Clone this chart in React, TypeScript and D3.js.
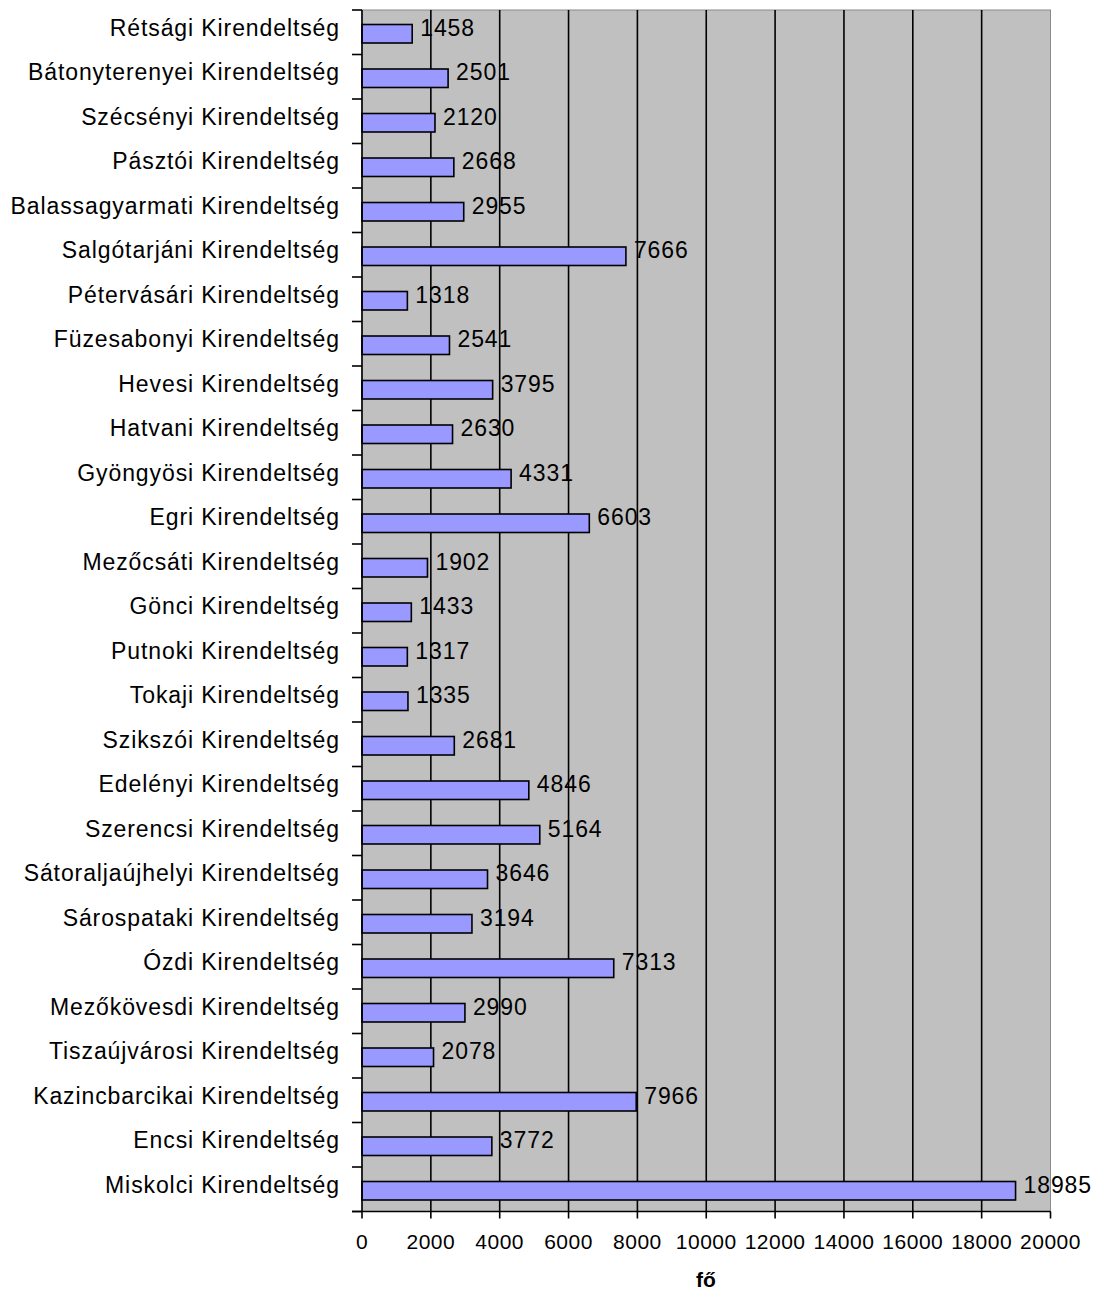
import React from "react";
import * as d3 from "d3";

const categories: string[] = [
  "Rétsági Kirendeltség",
  "Bátonyterenyei Kirendeltség",
  "Szécsényi Kirendeltség",
  "Pásztói Kirendeltség",
  "Balassagyarmati Kirendeltség",
  "Salgótarjáni Kirendeltség",
  "Pétervásári Kirendeltség",
  "Füzesabonyi Kirendeltség",
  "Hevesi Kirendeltség",
  "Hatvani Kirendeltség",
  "Gyöngyösi Kirendeltség",
  "Egri Kirendeltség",
  "Mezőcsáti Kirendeltség",
  "Gönci Kirendeltség",
  "Putnoki Kirendeltség",
  "Tokaji Kirendeltség",
  "Szikszói Kirendeltség",
  "Edelényi Kirendeltség",
  "Szerencsi Kirendeltség",
  "Sátoraljaújhelyi Kirendeltség",
  "Sárospataki Kirendeltség",
  "Ózdi Kirendeltség",
  "Mezőkövesdi Kirendeltség",
  "Tiszaújvárosi Kirendeltség",
  "Kazincbarcikai Kirendeltség",
  "Encsi Kirendeltség",
  "Miskolci Kirendeltség",
];

const values: number[] = [
  1458, 2501, 2120, 2668, 2955, 7666, 1318, 2541, 3795, 2630, 4331, 6603, 1902,
  1433, 1317, 1335, 2681, 4846, 5164, 3646, 3194, 7313, 2990, 2078, 7966, 3772,
  18985,
];

const xTicks: number[] = [0, 2000, 4000, 6000, 8000, 10000, 12000, 14000, 16000, 18000, 20000];
const axisTitle = "fő";

const W = 1097;
const H = 1292;
const left = 362;
const right = 1050.5;
const top = 10;
const bottom = 1211.5;

export default function App() {
  const x = d3.scaleLinear().domain([0, 20000]).range([left, right]);
  const y = d3
    .scaleBand<string>()
    .domain(categories)
    .range([top, bottom])
    .paddingInner(0)
    .paddingOuter(0);
  const step = y.step();
  const barH = 18.5;
  const font = "'Liberation Sans', Arial, sans-serif";

  const boundaries = d3.range(categories.length + 1).map((i) => top + i * step);

  return (
    <svg
      width={W}
      height={H}
      style={{ position: "absolute", left: 0, top: 0, background: "#fff" }}
      fontFamily={font}
    >
      <rect x={left} y={top} width={right - left} height={bottom - top} fill="#C0C0C0" stroke="#8a8a8a" strokeWidth={1} />
      {xTicks.slice(1, -1).map((t) => (
        <line key={"g" + t} x1={x(t)} x2={x(t)} y1={top} y2={bottom} stroke="#000" strokeWidth={1.6} />
      ))}
      {categories.map((c, i) => {
        const cy = (y(c) as number) + step / 2;
        return (
          <rect
            key={"b" + c}
            x={x(0)}
            y={cy + 1.5 - barH / 2}
            width={x(values[i]) - x(0)}
            height={barH}
            fill="#9999FF"
            stroke="#000"
            strokeWidth={1.6}
          />
        );
      })}
      {/* axes */}
      <line x1={left} x2={left} y1={top} y2={bottom} stroke="#000" strokeWidth={1.6} />
      <line x1={left - 10} x2={right} y1={bottom} y2={bottom} stroke="#000" strokeWidth={1.6} />
      {boundaries.map((b, i) => (
        <line key={"lt" + i} x1={left - 10} x2={left} y1={b} y2={b} stroke="#000" strokeWidth={1.6} />
      ))}
      {xTicks.map((t) => (
        <line key={"bt" + t} x1={x(t)} x2={x(t)} y1={bottom} y2={bottom + 7} stroke="#000" strokeWidth={1.6} />
      ))}
      {/* category labels */}
      {categories.map((c) => {
        const cy = (y(c) as number) + step / 2;
        return (
          <text
            key={"l" + c}
            x={340}
            y={cy + 3.5}
            textAnchor="end"
            fontSize={23}
            letterSpacing={0.9}
            fill="#000"
          >
            {c}
          </text>
        );
      })}
      {/* value labels */}
      {categories.map((c, i) => {
        const cy = (y(c) as number) + step / 2;
        return (
          <text
            key={"v" + c}
            x={x(values[i]) + 8}
            y={cy + 3.5}
            fontSize={23}
            letterSpacing={0.9}
            fill="#000"
          >
            {values[i]}
          </text>
        );
      })}
      {/* x tick labels */}
      {xTicks.map((t) => (
        <text
          key={"xl" + t}
          x={x(t)}
          y={1249}
          textAnchor="middle"
          fontSize={21}
          letterSpacing={0.5}
          fill="#000"
        >
          {t}
        </text>
      ))}
      <text x={706} y={1287} textAnchor="middle" fontSize={21} fontWeight="bold" fill="#000">
        {axisTitle}
      </text>
    </svg>
  );
}
